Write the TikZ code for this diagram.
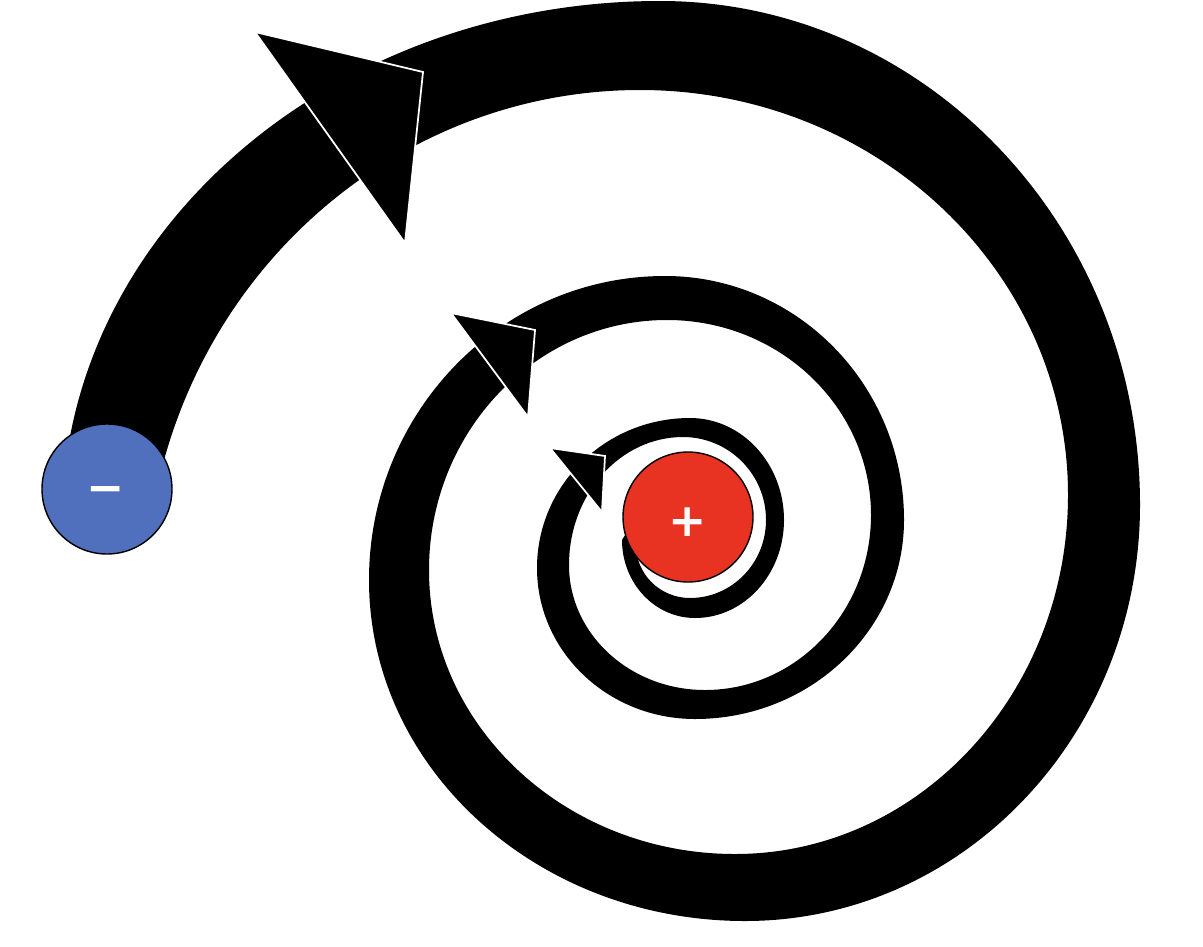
\documentclass[tikz,border=0pt]{standalone}
\usepackage{fontspec}
\usepackage{tikz}
\usepackage{xcolor}
\newfontfamily\signfont{DejaVu Sans}
\definecolor{minusblue}{RGB}{80,112,190}
\definecolor{plusred}{RGB}{232,51,35}

\begin{document}
\begin{tikzpicture}[
        x=0.1mm, y=-0.1mm,
        pole/.style={circle, draw=black, line width=0.4pt, minimum size=13mm, inner sep=0pt},
        sign/.style={text=white, inner sep=0pt, font=\signfont\bfseries\fontsize{13}{13}\selectfont},
        head/.style={fill=black, draw=white, line width=0.5pt, line join=miter}
    ]
        \useasboundingbox (0,0) rectangle (1203,946);

        % Spiral band: outer edge inwards, then inner edge back out
        \fill[black] (62,522)
            arc[start angle=180, end angle=270, x radius=598, y radius=521]
            arc[start angle=270, end angle=360, x radius=480, y radius=504]
            arc[start angle=0, end angle=90, x radius=395, y radius=416]
            arc[start angle=90, end angle=180, x radius=376, y radius=341]
            arc[start angle=180, end angle=270, x radius=296, y radius=304]
            arc[start angle=270, end angle=360, x radius=239, y radius=244]
            arc[start angle=0, end angle=90, x radius=209, y radius=199]
            arc[start angle=90, end angle=180, x radius=158, y radius=151]
            arc[start angle=180, end angle=270, x radius=153, y radius=150]
            arc[start angle=270, end angle=360, x radius=94, y radius=102]
            arc[start angle=0, end angle=90, x radius=89, y radius=98]
            arc[start angle=90, end angle=180, x radius=73, y radius=78]
            -- (642,508) -- (636,545)
            arc[start angle=180, end angle=90, x radius=54, y radius=53]
            arc[start angle=90, end angle=0, x radius=76, y radius=78]
            arc[start angle=360, end angle=270, x radius=83, y radius=83]
            arc[start angle=270, end angle=180, x radius=114, y radius=128]
            arc[start angle=180, end angle=90, x radius=136, y radius=125]
            arc[start angle=90, end angle=0, x radius=166, y radius=175]
            arc[start angle=360, end angle=270, x radius=204, y radius=195]
            arc[start angle=270, end angle=180, x radius=238, y radius=250]
            arc[start angle=180, end angle=90, x radius=306, y radius=284]
            arc[start angle=90, end angle=0, x radius=333, y radius=359]
            arc[start angle=360, end angle=270, x radius=428, y radius=405]
            arc[start angle=270, end angle=192.7, x radius=495, y radius=510]
            -- cycle;

        % Arrowheads along the spiral
        \draw[head] (255,32) -- (423,72) -- (405,243) -- cycle;
        \draw[head] (451,313) -- (535,330) -- (528,417) -- cycle;
        \draw[head] (550,448) -- (605,456) -- (602,512) -- cycle;

        % Poles
        \node[pole, fill=minusblue] (minus) at (107,489) {};
        \node[sign] (minussign) at (106,495) {−};
        \node[pole, fill=plusred] (plus) at (688,517) {};
        \node[sign] (plussign) at (688,522) {+};

    \end{tikzpicture}
\end{document}
